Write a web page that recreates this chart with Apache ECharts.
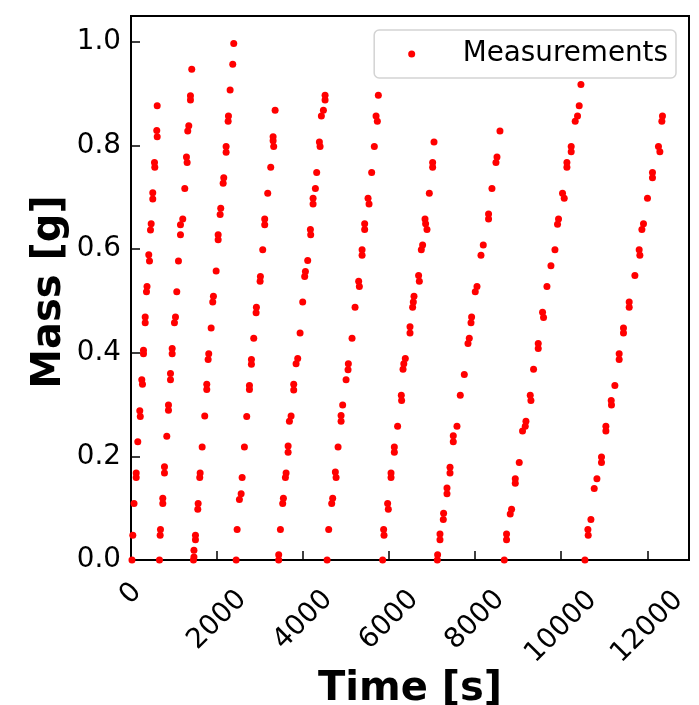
<!DOCTYPE html>
<html>
<head>
<meta charset="utf-8">
<script src="https://cdn.jsdelivr.net/npm/echarts@6/dist/echarts.min.js"></script>
<style>
html,body{margin:0;padding:0;background:#fff;}
#chart{width:699px;height:705px;}
</style>
</head>
<body>
<div id="chart"></div>
<script>
// Time [s], Mass [g] for each filling cycle
var cycle1 = [[23,0.0],[42,0.048],[70,0.109],[121,0.168],[121,0.159],[158,0.228],[204,0.288],[216,0.277],[251,0.348],[267,0.339],[290,0.405],[290,0.398],[330,0.469],[330,0.458],[372,0.528],[360,0.518],[413,0.589],[430,0.577],[469,0.649],[453,0.637],[506,0.709],[506,0.697],[546,0.767],[553,0.758],[599,0.829],[609,0.817],[609,0.877]];
var cycle2 = [[662,0.0],[685,0.059],[678,0.048],[739,0.119],[739,0.109],[778,0.18],[778,0.168],[832,0.239],[871,0.299],[871,0.289],[918,0.36],[918,0.348],[957,0.408],[957,0.398],[1034,0.469],[1010,0.458],[1064,0.518],[1103,0.577],[1203,0.658],[1150,0.647],[1150,0.628],[1250,0.717],[1289,0.778],[1305,0.767],[1343,0.838],[1319,0.828],[1382,0.896],[1382,0.888],[1412,0.947]];
var cycle3 = [[1452,0.0],[1463,0.006],[1463,0.019],[1498,0.048],[1498,0.039],[1561,0.109],[1552,0.098],[1607,0.168],[1598,0.159],[1654,0.218],[1714,0.278],[1761,0.339],[1761,0.329],[1807,0.398],[1793,0.387],[1863,0.448],[1916,0.509],[1900,0.498],[1979,0.558],[2026,0.628],[2026,0.618],[2086,0.679],[2072,0.667],[2156,0.738],[2142,0.727],[2211,0.798],[2211,0.787],[2265,0.857],[2258,0.847],[2304,0.907],[2365,0.957],[2388,0.997]];
var cycle4 = [[2444,0.0],[2467,0.059],[2560,0.128],[2520,0.117],[2583,0.159],[2636,0.218],[2690,0.277],[2753,0.337],[2753,0.329],[2799,0.387],[2799,0.378],[2853,0.428],[2915,0.488],[2908,0.477],[3008,0.547],[3001,0.538],[3062,0.599],[3108,0.658],[3108,0.647],[3178,0.708],[3248,0.758],[3303,0.817],[3303,0.809],[3317,0.798],[3350,0.868]];
var cycle5 = [[3433,0.0],[3433,0.01],[3473,0.059],[3542,0.119],[3526,0.109],[3605,0.168],[3589,0.159],[3652,0.22],[3652,0.208],[3721,0.278],[3682,0.268],[3782,0.339],[3782,0.328],[3875,0.389],[3837,0.379],[3930,0.438],[3991,0.498],[4054,0.557],[4037,0.547],[4107,0.578],[4170,0.638],[4177,0.628],[4232,0.698],[4232,0.687],[4286,0.717],[4316,0.748],[4379,0.807],[4395,0.798],[4472,0.868],[4425,0.857],[4511,0.897],[4511,0.888]];
var cycle6 = [[4558,0.0],[4595,0.059],[4688,0.119],[4665,0.109],[4750,0.17],[4767,0.159],[4813,0.218],[4920,0.299],[4883,0.279],[4883,0.268],[5052,0.379],[5045,0.367],[4999,0.348],[5138,0.428],[5208,0.488],[5292,0.538],[5308,0.528],[5371,0.599],[5371,0.588],[5431,0.649],[5431,0.638],[5510,0.698],[5533,0.687],[5594,0.748],[5656,0.798],[5696,0.857],[5726,0.847],[5749,0.897]];
var cycle7 = [[5849,0.0],[5872,0.059],[5881,0.048],[5965,0.109],[5981,0.098],[6044,0.168],[6044,0.159],[6121,0.218],[6121,0.208],[6197,0.258],[6283,0.318],[6290,0.308],[6376,0.389],[6341,0.379],[6323,0.368],[6485,0.45],[6485,0.438],[6578,0.509],[6562,0.498],[6546,0.488],[6685,0.549],[6702,0.538],[6778,0.608],[6748,0.599],[6834,0.658],[6848,0.649],[6880,0.638],[6934,0.708],[7011,0.767],[7011,0.758],[7043,0.807]];
var cycle8 = [[7120,0.0],[7127,0.01],[7182,0.05],[7182,0.039],[7266,0.09],[7259,0.078],[7345,0.139],[7345,0.128],[7415,0.179],[7415,0.168],[7491,0.24],[7491,0.228],[7577,0.258],[7654,0.318],[7747,0.358],[7863,0.428],[7833,0.418],[7917,0.469],[7903,0.458],[8042,0.528],[8002,0.518],[8188,0.608],[8135,0.588],[8311,0.668],[8311,0.658],[8390,0.717],[8507,0.778],[8483,0.767],[8576,0.828]];
var cycle9 = [[8676,0.0],[8729,0.05],[8729,0.039],[8846,0.098],[8815,0.089],[8932,0.157],[8932,0.148],[9024,0.188],[9180,0.268],[9164,0.258],[9101,0.249],[9280,0.318],[9296,0.308],[9357,0.368],[9466,0.418],[9466,0.408],[9566,0.478],[9589,0.468],[9668,0.528],[9761,0.568],[9854,0.599],[9937,0.658],[9914,0.648],[10030,0.708],[10070,0.698],[10132,0.767],[10132,0.758],[10232,0.798],[10232,0.788],[10379,0.857],[10325,0.847],[10418,0.877],[10458,0.918]];
var cycle10 = [[10551,0.0],[10620,0.059],[10627,0.048],[10690,0.078],[10830,0.157],[10767,0.138],[10936,0.199],[10936,0.188],[11038,0.258],[11038,0.249],[11162,0.308],[11168,0.299],[11247,0.337],[11347,0.398],[11347,0.387],[11447,0.448],[11447,0.438],[11580,0.498],[11580,0.488],[11712,0.549],[11812,0.599],[11828,0.588],[11912,0.649],[11875,0.638],[12005,0.698],[12121,0.748],[12121,0.738],[12260,0.798],[12293,0.788],[12353,0.857],[12339,0.847]];

var xTicks = [0, 2000, 4000, 6000, 8000, 10000, 12000];
var yTicks = [0.0, 0.2, 0.4, 0.6, 0.8, 1.0];
var seriesName = 'Measurements';
var xTitle = 'Time [s]';
var yTitle = 'Mass [g]';

var measurements = [].concat(cycle1, cycle2, cycle3, cycle4, cycle5, cycle6, cycle7, cycle8, cycle9, cycle10);

var FONT = 'DejaVu Sans';
var FS = 27.8;

var chart = echarts.init(document.getElementById('chart'), null, {renderer: 'canvas'});
chart.setOption({
  animation: false,
  backgroundColor: '#ffffff',
  grid: {
    left: 131, right: 10, top: 16, bottom: 145,
    outerBoundsMode: 'none',
    containLabel: false,
    show: true, borderColor: '#000', borderWidth: 2, backgroundColor: 'transparent'
  },
  legend: {
    data: [seriesName],
    right: 23, top: 30,
    orient: 'horizontal',
    icon: 'circle',
    itemWidth: 56, itemHeight: 7,
    padding: [10, 8, 10, 34],
    borderColor: '#d3d3d3', borderWidth: 1.5, borderRadius: 5,
    backgroundColor: 'rgba(255,255,255,0.8)',
    formatter: function (n) { return '{t|' + n + '}'; },
    textStyle: {
      fontFamily: FONT, fontSize: FS, color: '#000',
      rich: { t: { fontFamily: FONT, fontSize: FS, color: '#000', padding: [0, 0, 0, 18] } }
    }
  },
  xAxis: {
    type: 'value',
    min: 0, max: 12970, interval: 2000,
    name: xTitle, nameLocation: 'middle', nameGap: 110, nameMoveOverlap: false,
    nameTextStyle: { fontFamily: FONT, fontSize: 40, fontWeight: 'bold', color: '#000' },
    axisLine: { show: false },
    axisTick: { show: true, inside: true, length: 9, lineStyle: { color: '#000', width: 1.5 } },
    splitLine: { show: false },
    axisLabel: {
      rotate: 45, align: 'center', verticalAlign: 'middle', margin: 34,
      showMaxLabel: false, hideOverlap: false,
      fontFamily: FONT, fontSize: FS, color: '#000',
      formatter: function (v) {
        if (xTicks.indexOf(v) < 0) return '';
        var s = String(v);
        var k = s.length === 1 ? 'a' : (s.length === 4 ? 'b' : 'c');
        return '{' + k + '|' + s + '}';
      },
      rich: {
        a: { fontFamily: FONT, fontSize: FS, color: '#000' },
        b: { fontFamily: FONT, fontSize: FS, color: '#000', padding: [37, 37, 0, 0] },
        c: { fontFamily: FONT, fontSize: FS, color: '#000', padding: [47, 47, 0, 0] }
      }
    }
  },
  yAxis: {
    type: 'value',
    min: 0, max: 1.05, interval: 0.2,
    name: yTitle, nameLocation: 'middle', nameGap: 61, nameMoveOverlap: false,
    nameTextStyle: { fontFamily: FONT, fontSize: 40, fontWeight: 'bold', color: '#000', padding: [0, 8, 0, 0] },
    axisLine: { show: false },
    axisTick: { show: true, inside: true, length: 9, lineStyle: { color: '#000', width: 1.5 } },
    splitLine: { show: false },
    axisLabel: {
      margin: 10, showMaxLabel: false,
      fontFamily: FONT, fontSize: FS, color: '#000',
      formatter: function (v) {
        for (var i = 0; i < yTicks.length; i++) {
          if (Math.abs(yTicks[i] - v) < 1e-6) return yTicks[i].toFixed(1);
        }
        return '';
      }
    }
  },
  series: [{
    name: seriesName,
    type: 'scatter',
    data: measurements,
    symbol: 'circle',
    symbolSize: 7,
    itemStyle: { color: '#ff0000', opacity: 1 },
    clip: true
  }]
});
</script>
</body>
</html>
